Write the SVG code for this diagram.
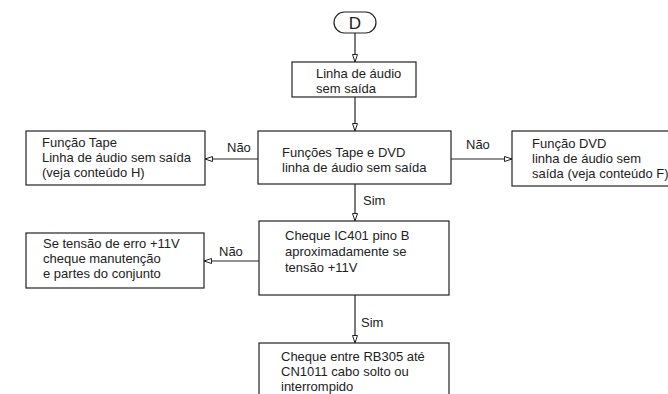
<svg xmlns="http://www.w3.org/2000/svg" width="668" height="394" viewBox="0 0 668 394">
<defs>
<marker id="arr" markerWidth="10" markerHeight="8" refX="8" refY="3" orient="auto" markerUnits="userSpaceOnUse">
<path d="M0.5,0.5 L8,3 L0.5,5.5 Z" fill="#fff" stroke="#222" stroke-width="1"/>
</marker>
</defs>
<style>
.b{fill:#fff;stroke:#222;stroke-width:1.2}
.t{font-family:"Liberation Sans",Arial,sans-serif;font-size:13px;fill:#222}
.c{stroke:#222;stroke-width:1.2;fill:none}
</style>
<rect width="668" height="394" fill="#fff"/>
<g id="connectors">
<path class="c" d="M355,33 V62" marker-end="url(#arr)"/>
<path class="c" d="M355,97 V131" marker-end="url(#arr)"/>
<path class="c" d="M258,159 H205" marker-end="url(#arr)"/>
<path class="c" d="M451,159 H512" marker-end="url(#arr)"/>
<path class="c" d="M355,184 V221" marker-end="url(#arr)"/>
<path class="c" d="M259,261 H204" marker-end="url(#arr)"/>
<path class="c" d="M355,295 V343" marker-end="url(#arr)"/>
<text class="t" x="227" y="152">Não</text>
<text class="t" x="466" y="149">Não</text>
<text class="t" x="363" y="205">Sim</text>
<text class="t" x="219" y="256">Não</text>
<text class="t" x="361" y="327">Sim</text>
</g>
<g id="start">
<rect class="b" x="334" y="12" width="42" height="21" rx="10.5" ry="10.5"/>
<text x="355" y="29" text-anchor="middle" style="font-family:'Liberation Sans',Arial,sans-serif;font-size:17px;fill:#222">D</text>
</g>
<g id="n1">
<rect class="b" x="292" y="62" width="124" height="35"/>
<text class="t" x="316" y="78">Linha de áudio</text>
<text class="t" x="316" y="93">sem saída</text>
</g>
<g id="n2">
<rect class="b" x="258" y="131" width="193" height="53"/>
<text class="t" x="282" y="157">Funções Tape e DVD</text>
<text class="t" x="282" y="172">linha de áudio sem saída</text>
</g>
<g id="n3">
<rect class="b" x="26" y="131" width="179" height="54"/>
<text class="t" x="42" y="147">Função Tape</text>
<text class="t" x="42" y="162">Linha de áudio sem saída</text>
<text class="t" x="42" y="177">(veja conteúdo H)</text>
</g>
<g id="n4">
<rect class="b" x="512" y="131" width="170" height="55"/>
<text class="t" x="532" y="148">Função DVD</text>
<text class="t" x="532" y="163">linha de áudio sem</text>
<text class="t" x="532" y="178">saída (veja conteúdo F)</text>
</g>
<g id="n5">
<rect class="b" x="259" y="221" width="190" height="74"/>
<text class="t" x="285" y="240">Cheque IC401 pino B</text>
<text class="t" x="285" y="256">aproximadamente se</text>
<text class="t" x="285" y="272">tensão +11V</text>
</g>
<g id="n6">
<rect class="b" x="26" y="233" width="178" height="55"/>
<text class="t" x="43" y="248">Se tensão de erro +11V</text>
<text class="t" x="43" y="263">cheque manutenção</text>
<text class="t" x="43" y="278">e partes do conjunto</text>
</g>
<g id="n7">
<rect class="b" x="259" y="343" width="190" height="60"/>
<text class="t" x="281" y="361">Cheque entre RB305 até</text>
<text class="t" x="281" y="376">CN1011 cabo solto ou</text>
<text class="t" x="281" y="391">interrompido</text>
</g>
</svg>
